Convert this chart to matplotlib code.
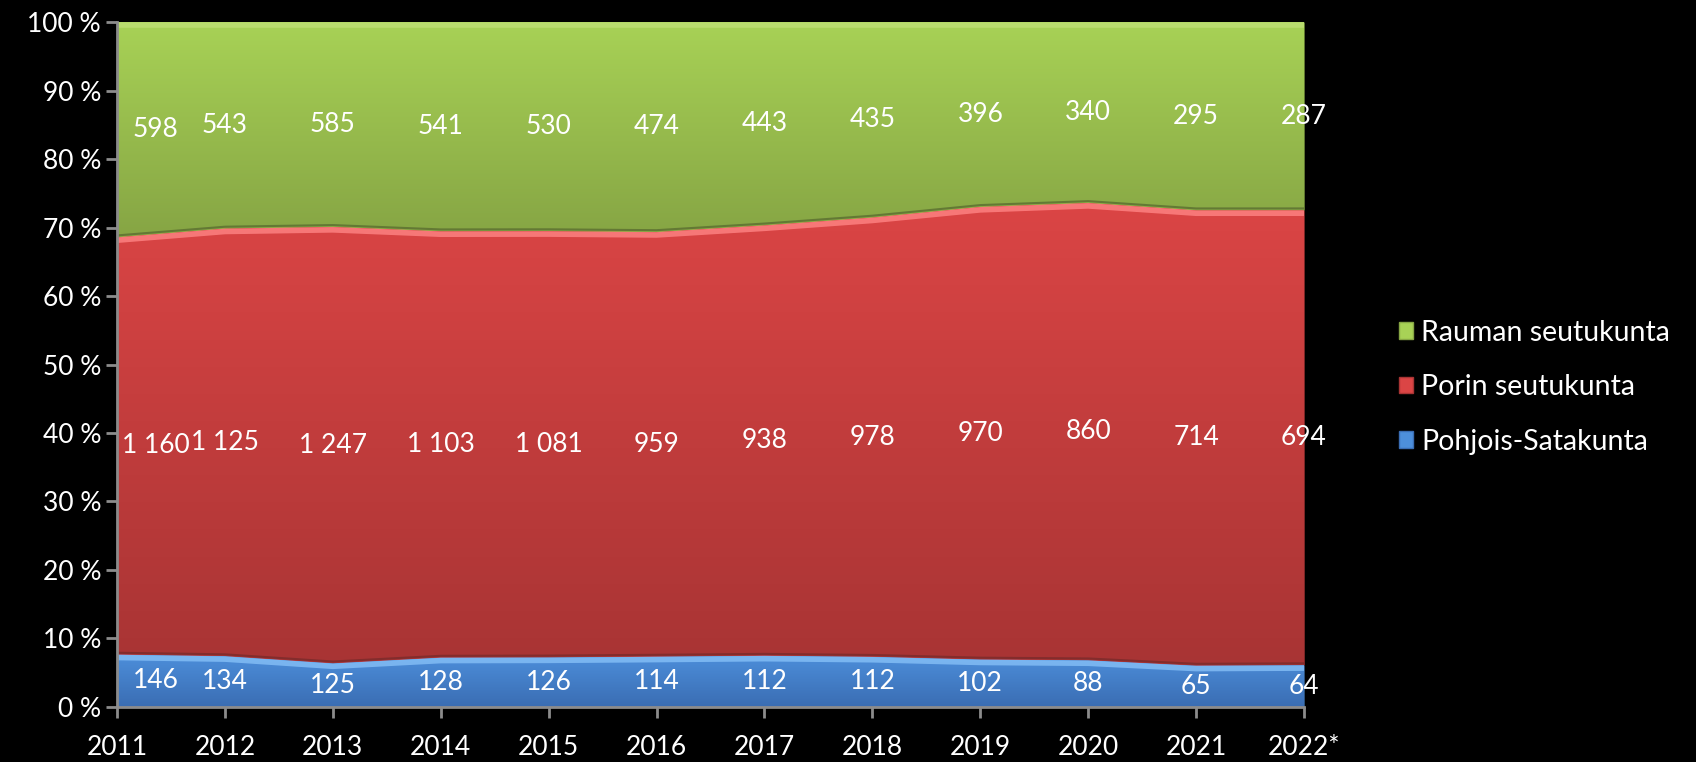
import matplotlib

matplotlib.use("Agg")
import matplotlib.pyplot as plt  # noqa: E402
import numpy as np  # noqa: E402
from matplotlib.colors import LinearSegmentedColormap  # noqa: E402
from matplotlib.patches import Patch  # noqa: E402

years = ["2011", "2012", "2013", "2014", "2015", "2016",
         "2017", "2018", "2019", "2020", "2021", "2022*"]
pohjois = [146, 134, 125, 128, 126, 114, 112, 112, 102, 88, 65, 64]
pori = [1160, 1125, 1247, 1103, 1081, 959, 938, 978, 970, 860, 714, 694]
rauma = [598, 543, 585, 541, 530, 474, 443, 435, 396, 340, 295, 287]
series_names = ["Pohjois-Satakunta", "Porin seutukunta", "Rauman seutukunta"]

plt.rcParams["font.family"] = ["Lato", "DejaVu Sans"]
FS = 19

# (top colour, bottom colour, highlight on top edge)
styles = [
    ("#4d8fdb", "#3a6db3", "#86c0f7"),
    ("#db4545", "#a83434", "#ff8585"),
    ("#a8d256", "#86a544", "#c2e27a"),
]

counts = np.array([pohjois, pori, rauma], dtype=float)
share = counts / counts.sum(axis=0) * 100
tops = np.cumsum(share, axis=0)
bottoms = tops - share
x = np.arange(len(years))

fig = plt.figure(figsize=(16.96, 7.62), dpi=100, facecolor="black")
ax = fig.add_axes([0.069, 0.0722, 0.6999, 0.8989], facecolor="black")

for i in range(3):
    top_c, bot_c, hi_c = styles[i]
    poly = ax.fill_between(x, bottoms[i], tops[i], color=top_c, lw=0, zorder=1)
    ymin, ymax = bottoms[i].min(), tops[i].max()
    cmap = LinearSegmentedColormap.from_list(f"g{i}", [bot_c, top_c])
    grad = np.linspace(0, 1, 256).reshape(-1, 1)
    im = ax.imshow(grad, extent=[x[0], x[-1], ymin, ymax], origin="lower",
                   aspect="auto", cmap=cmap, zorder=2)
    im.set_clip_path(poly.get_paths()[0], transform=ax.transData)
    # bevel look: light line just under the top edge, dark shadow above it
    if i < 2:
        ax.plot(x, tops[i] - 0.45, color=hi_c, lw=4, alpha=0.8, zorder=3,
                solid_capstyle="butt")
        ax.plot(x, tops[i] + 0.25, color="#5a6e30" if i == 1 else "#7a2a2a",
                lw=1.5, alpha=0.8, zorder=3)
    else:
        ax.plot(x, tops[i] - 0.5, color=hi_c, lw=4, alpha=0.7, zorder=3,
                solid_capstyle="butt")

# data labels in the middle of each band
for i in range(3):
    mids = (bottoms[i] + tops[i]) / 2
    for j, v in enumerate(counts[i]):
        txt = f"{int(v):,}".replace(",", " ")
        dx = 28 if j == 0 else 0
        ax.annotate(txt, (x[j], mids[j]), xytext=(dx, 0),
                    textcoords="offset points", ha="center", va="center",
                    color="white", fontsize=FS, zorder=5,
                    annotation_clip=False)

ax.set_xlim(x[0], x[-1])
ax.set_ylim(0, 100)
ax.set_xticks(x)
ax.set_xticklabels(years)
ax.set_yticks(np.arange(0, 101, 10))
ax.set_yticklabels([f"{v} %" for v in range(0, 101, 10)])
ax.tick_params(colors="#8c8c8c", labelcolor="white", labelsize=FS,
               length=8, width=2, direction="out")
ax.tick_params(axis="x", pad=12)
for side in ["top", "right"]:
    ax.spines[side].set_visible(False)
for side in ["left", "bottom"]:
    ax.spines[side].set_color("#8c8c8c")
    ax.spines[side].set_linewidth(2)
    ax.spines[side].set_zorder(6)

handles = [Patch(facecolor=styles[i][0], edgecolor=styles[i][1])
           for i in (2, 1, 0)]
leg = fig.legend(handles, [series_names[i] for i in (2, 1, 0)],
                 loc="center left", bbox_to_anchor=(0.8095, 0.492),
                 frameon=False, fontsize=20.5, labelcolor="white",
                 handlelength=0.5, handleheight=0.5, handletextpad=0.3,
                 labelspacing=1.0)

fig.savefig("out.png", dpi=100, facecolor="black")
